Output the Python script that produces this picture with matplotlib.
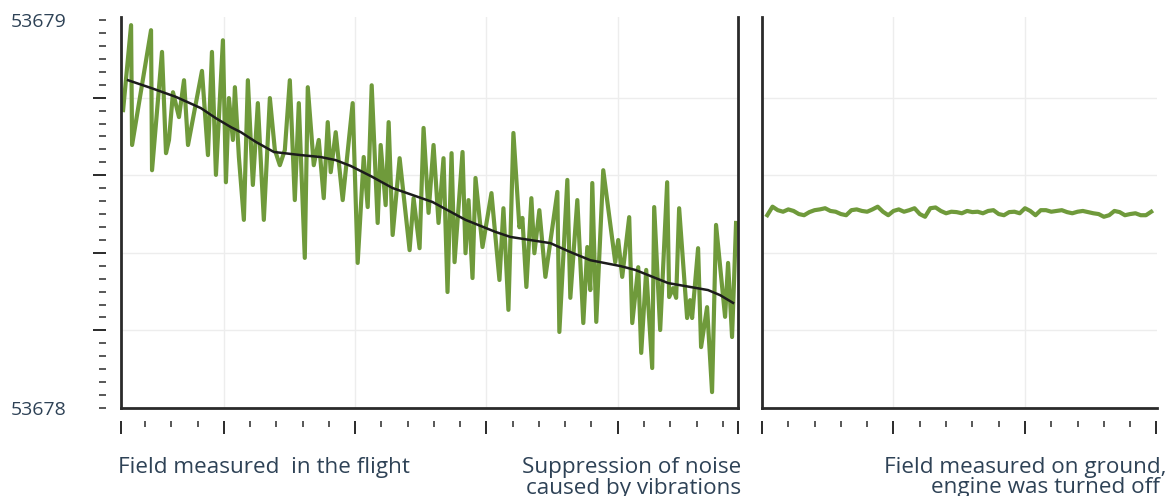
import matplotlib
matplotlib.use('Agg')
import matplotlib.pyplot as plt
from matplotlib.ticker import FixedLocator, MultipleLocator, NullFormatter

# magnetometer readings in the flight (noisy) and its smoothed version
flight_t = [5.80, 7.32, 7.51, 11.12, 11.31, 13.21, 13.97, 14.54, 15.30, 16.44,
            17.40, 18.16, 20.82, 21.96, 22.72, 23.48, 24.81, 25.38, 25.95, 26.71,
            27.09, 27.85, 28.80, 29.56, 30.51, 31.46, 32.60, 33.75, 34.70, 35.65,
            36.60, 37.55, 38.50, 39.26, 40.40, 40.97, 42.11, 43.06, 44.01, 44.77,
            45.34, 46.29, 47.62, 49.52, 50.47, 51.62, 52.38, 53.14, 54.28, 54.85,
            55.80, 56.37, 57.13, 58.46, 60.36, 61.12, 62.26, 63.02, 63.97, 64.92,
            65.87, 66.82, 67.58, 68.35, 68.92, 70.44, 71.01, 71.58, 72.34, 72.91,
            74.24, 75.95, 76.71, 77.47, 78.23, 79.18, 80.13, 81.27, 81.84, 82.60,
            83.55, 84.12, 85.07, 86.22, 88.50, 88.88, 90.40, 90.97, 92.30, 93.44,
            94.20, 94.77, 95.15, 95.91, 97.24, 99.52, 100.09, 100.85, 102.18, 102.76,
            103.90, 104.47, 105.42, 106.56, 106.94, 108.08, 109.41, 109.79, 110.55, 111.12,
            111.69, 113.21, 113.78, 114.16, 115.30, 115.87, 117.01, 117.96, 118.72, 120.44,
            121.01, 121.77, 122.53]
flight_field = [53678.768, 53678.987, 53678.678, 53678.974, 53678.613, 53678.918, 53678.657, 53678.691, 53678.814, 53678.750,
                53678.845, 53678.678, 53678.869, 53678.652, 53678.918, 53678.601, 53678.948, 53678.582, 53678.799, 53678.691,
                53678.827, 53678.647, 53678.485, 53678.845, 53678.575, 53678.786, 53678.485, 53678.799, 53678.665, 53678.626,
                53678.665, 53678.845, 53678.536, 53678.786, 53678.387, 53678.827, 53678.626, 53678.691, 53678.541, 53678.737,
                53678.608, 53678.711, 53678.536, 53678.786, 53678.374, 53678.647, 53678.518, 53678.832, 53678.477, 53678.678,
                53678.523, 53678.737, 53678.446, 53678.644, 53678.407, 53678.541, 53678.412, 53678.722, 53678.503, 53678.678,
                53678.477, 53678.644, 53678.299, 53678.657, 53678.376, 53678.660, 53678.399, 53678.536, 53678.335, 53678.593,
                53678.415, 53678.554, 53678.441, 53678.330, 53678.515, 53678.253, 53678.709, 53678.466, 53678.490, 53678.312,
                53678.541, 53678.399, 53678.510, 53678.338, 53678.557, 53678.196, 53678.588, 53678.284, 53678.536, 53678.219,
                53678.415, 53678.304, 53678.580, 53678.222, 53678.613, 53678.376, 53678.433, 53678.338, 53678.492, 53678.219,
                53678.363, 53678.142, 53678.356, 53678.103, 53678.518, 53678.201, 53678.582, 53678.286, 53678.309, 53678.284,
                53678.515, 53678.232, 53678.278, 53678.232, 53678.412, 53678.157, 53678.260, 53678.041, 53678.472, 53678.235,
                53678.374, 53678.183, 53678.477]

smooth_t = [6.75, 11.12, 15.87, 20.63, 23.48, 26.33, 28.23, 31.08, 34.51, 39.64,
            43.44, 46.29, 49.14, 52.95, 57.13, 64.73, 71.01, 76.71, 79.56, 87.17,
            90.97, 94.77, 100.47, 103.33, 109.60, 117.20, 119.48, 121.96]
smooth_field = [53678.845, 53678.825, 53678.802, 53678.773, 53678.747, 53678.724, 53678.711, 53678.686, 53678.660, 53678.652,
                53678.647, 53678.639, 53678.624, 53678.598, 53678.567, 53678.531, 53678.485, 53678.454, 53678.441, 53678.425,
                53678.402, 53678.381, 53678.366, 53678.356, 53678.322, 53678.304, 53678.291, 53678.271]

# readings on the ground with the engine off
ground_t = list(range(1, 75))
ground_field = [53678.497, 53678.519, 53678.510, 53678.506, 53678.512, 53678.508, 53678.500, 53678.497, 53678.505, 53678.510,
                53678.512, 53678.515, 53678.508, 53678.506, 53678.500, 53678.497, 53678.510, 53678.512, 53678.508, 53678.506,
                53678.512, 53678.519, 53678.506, 53678.497, 53678.508, 53678.512, 53678.506, 53678.510, 53678.515, 53678.500,
                53678.493, 53678.515, 53678.517, 53678.508, 53678.502, 53678.506, 53678.505, 53678.502, 53678.508, 53678.505,
                53678.506, 53678.502, 53678.508, 53678.510, 53678.500, 53678.497, 53678.505, 53678.506, 53678.502, 53678.515,
                53678.508, 53678.497, 53678.510, 53678.510, 53678.506, 53678.508, 53678.510, 53678.505, 53678.502, 53678.506,
                53678.508, 53678.505, 53678.502, 53678.500, 53678.493, 53678.497, 53678.508, 53678.505, 53678.497, 53678.500,
                53678.502, 53678.497, 53678.497, 53678.506]

y_labels = ['53678', '53679']

green = '#6f9a3b'
ink = '#2e4256'
frame = '#2a2a2a'
gridc = '#ededed'

plt.rcParams['font.family'] = 'Open Sans'

W, H = 1173, 496
fig = plt.figure(figsize=(W / 100, H / 100), dpi=100)
ax1 = fig.add_axes([121 / W, 88 / H, 617 / W, 391 / H])
ax2 = fig.add_axes([762 / W, 88 / H, 395 / W, 391 / H])

setup = ((ax1, (5.4, 122.9), [25, 50, 75, 100], [5.4, 25, 50, 75, 100, 122.9]),
         (ax2, (0, 75.1), [25, 50], [0, 25, 50, 75]))

for ax, xlim, grid_x, xmaj in setup:
    ax.set_xlim(xlim)
    ax.set_ylim(53678, 53679.008)
    for s in ('top', 'right'):
        ax.spines[s].set_visible(False)
    for s in ('left', 'bottom'):
        ax.spines[s].set_color(frame)
        ax.spines[s].set_linewidth(2)
    ax.set_xticks(grid_x)
    ax.xaxis.set_major_formatter(NullFormatter())
    ax.yaxis.set_minor_locator(FixedLocator([53678.2, 53678.4, 53678.6, 53678.8]))
    ax.tick_params(which='both', length=0)
    ax.grid(axis='x', which='major', color=gridc, lw=1)
    ax.grid(axis='y', which='minor', color=gridc, lw=1)
    ax.set_axisbelow(True)

    # detached tick row under the plot
    sx = ax.secondary_xaxis(-13 / 391)
    sx.set_xticks(xmaj)
    sx.xaxis.set_minor_locator(MultipleLocator(5))
    sx.tick_params(which='major', length=9, width=1.4, color=frame, labelbottom=False)
    sx.tick_params(which='minor', length=4.5, width=1.1, color=frame)
    for s in sx.spines.values():
        s.set_visible(False)

ax1.spines['right'].set_visible(True)
ax1.spines['right'].set_color(frame)
ax1.spines['right'].set_linewidth(2)

ax1.set_yticks([53678, 53679], labels=y_labels)
ax1.tick_params(axis='y', pad=39.6, labelsize=14, labelcolor=ink)
ax2.set_yticks([])

# detached tick column left of the plot
sy = ax1.secondary_yaxis(-15 / 617)
sy.set_yticks([53678.2, 53678.4, 53678.6, 53678.8])
sy.yaxis.set_minor_locator(FixedLocator([53678 + i / 30 for i in range(31)]))
sy.tick_params(which='major', length=9.4, width=1.4, color=frame, labelleft=False)
sy.tick_params(which='minor', length=4.8, width=1.1, color=frame)
for s in sy.spines.values():
    s.set_visible(False)

ax1.plot(flight_t, flight_field, color=green, lw=3, solid_joinstyle='round')
ax1.plot(smooth_t, smooth_field, color='#1c1c1c', lw=1.8)
ax2.plot(ground_t, ground_field, color=green, lw=3, solid_joinstyle='round')

fs = 16.2
fig.text(118 / W, 1 - 473 / H, 'Field measured  in the flight', ha='left', va='baseline', fontsize=fs, color=ink)
fig.text(741 / W, 1 - 473 / H, 'Suppression of noise', ha='right', va='baseline', fontsize=fs, color=ink)
fig.text(741 / W, 1 - 494 / H, 'caused by vibrations', ha='right', va='baseline', fontsize=fs, color=ink)
fig.text(1167 / W, 1 - 473 / H, 'Field measured on ground,', ha='right', va='baseline', fontsize=fs, color=ink)
fig.text(1160 / W, 1 - 493 / H, 'engine was turned off', ha='right', va='baseline', fontsize=fs, color=ink)

plt.savefig('out.png', dpi=100)
